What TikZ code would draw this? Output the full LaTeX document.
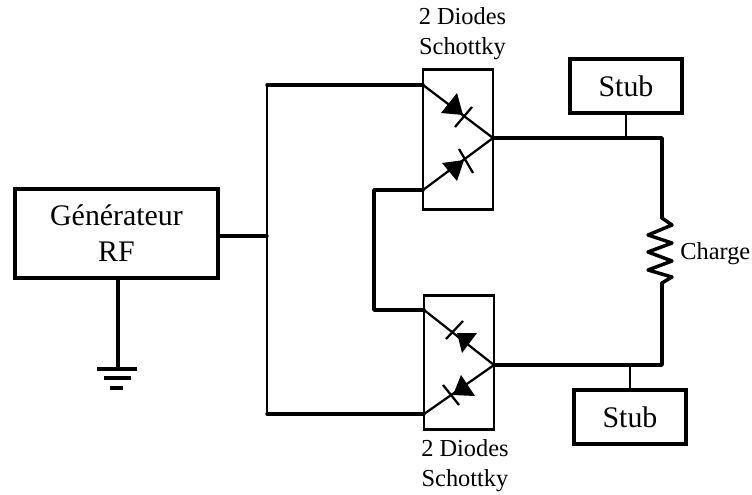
\documentclass[tikz,border=0pt]{standalone}
\usepackage{fontspec}
\setmainfont{Liberation Serif}
\tikzset{
  x=0.75pt,y=-0.75pt,
  wire/.style={line width=2.6pt,line cap=round,line join=round},
  thinwire/.style={line width=1.6pt},
  stem/.style={line width=2pt},
  block/.style={draw,line width=2.8pt,inner sep=0pt,align=center},
  diodebox/.style={draw,line width=2.2pt,inner sep=0pt,minimum width=52.5pt,fill=white},
  lead/.style={line width=1.7pt},
  bar/.style={line width=1.7pt},
  big/.style={font=\fontsize{22.4}{27}\selectfont},
  small/.style={font=\fontsize{18.3}{22.5}\selectfont,align=center,inner sep=0pt},
}
\begin{document}
\begin{tikzpicture}
\useasboundingbox (0,0) rectangle (752,495);
\node[block,minimum width=152pt,minimum height=67pt,big] (gen) at (116.5,233.5) {Générateur\\RF};
\node[block,minimum width=84pt,minimum height=41pt,big] (stubA) at (626,86) {Stub};
\node[block,minimum width=84pt,minimum height=41pt,big] (stubB) at (630,417) {Stub};
\node[diodebox,minimum height=105pt] (boxA) at (458,139.5) {};
\node[diodebox,minimum height=100pt] (boxB) at (459,362.5) {};
\node[small] (labA) at (462.5,34) {2 Diodes\\Schottky};
\node[small] (labB) at (465,466) {2 Diodes\\Schottky};
\node[font=\fontsize{18.3}{22}\selectfont,anchor=west,inner sep=0pt] (charge) at (680,254) {Charge};
% internal coordinates
\coordinate (a1) at (423,85);
\coordinate (a2) at (423,190);
\coordinate (aout) at (493,138);
\coordinate (b1) at (424,310);
\coordinate (b2) at (424,414);
\coordinate (bout) at (494,365);
\coordinate (busT) at (267,85);
\coordinate (busB) at (267,414);
\coordinate (busM) at (267,236);
\coordinate (loopT) at (374,190);
\coordinate (loopB) at (374,310);
\coordinate (corT) at (662,138);
\coordinate (corB) at (662,365);
\coordinate (resT) at (662,218);
\coordinate (resB) at (662,283);
\coordinate (gnd) at (118,369);
% diode leads
\draw[lead] (a1) -- (aout) -- (a2);
\draw[lead] (b1) -- (bout) -- (b2);
% diodes
\fill (457,93) -- (441,113) -- (463,115) -- cycle;
\draw[bar] (472,107) -- (455,127);
\fill (442,163) -- (457,181) -- (464,160) -- cycle;
\draw[bar] (459,149) -- (473,173);
\fill (477,333) -- (457,333) -- (462,353) -- cycle;
\draw[bar] (463,321) -- (446,339);
\fill (461,375) -- (453,395) -- (475,396) -- cycle;
\draw[bar] (443,385) -- (459,405);
% wires
\draw[thinwire] (busT) -- (busB);
\draw[wire] (busT) -- (a1);
\draw[wire] (busB) -- (b2);
\draw[wire] (gen.east |- busM) -- (busM);
\draw[wire] (a2) -- (loopT) -- (loopB) -- (b1);
\draw[wire] (aout) -- (corT) -- (resT);
\draw[wire] (bout) -- (corB) -- (resB);
\draw[wire] (resT) -- (672,225) -- (648,235) -- (672,243) -- (648,252) -- (672,261) -- (648,270) -- (672,277) -- (resB);
\draw[stem] (stubA.south) -- (stubA.south |- corT);
\draw[stem] (stubB.north) -- (stubB.north |- corB);
% ground
\draw[wire] (gen.south -| gnd) -- (gnd);
\draw[wire,line cap=butt] (97,369) -- (137,369);
\draw[wire,line cap=butt] (104,378) -- (131,378);
\draw[wire,line cap=butt] (110,388) -- (123,388);
\end{tikzpicture}
\end{document}
